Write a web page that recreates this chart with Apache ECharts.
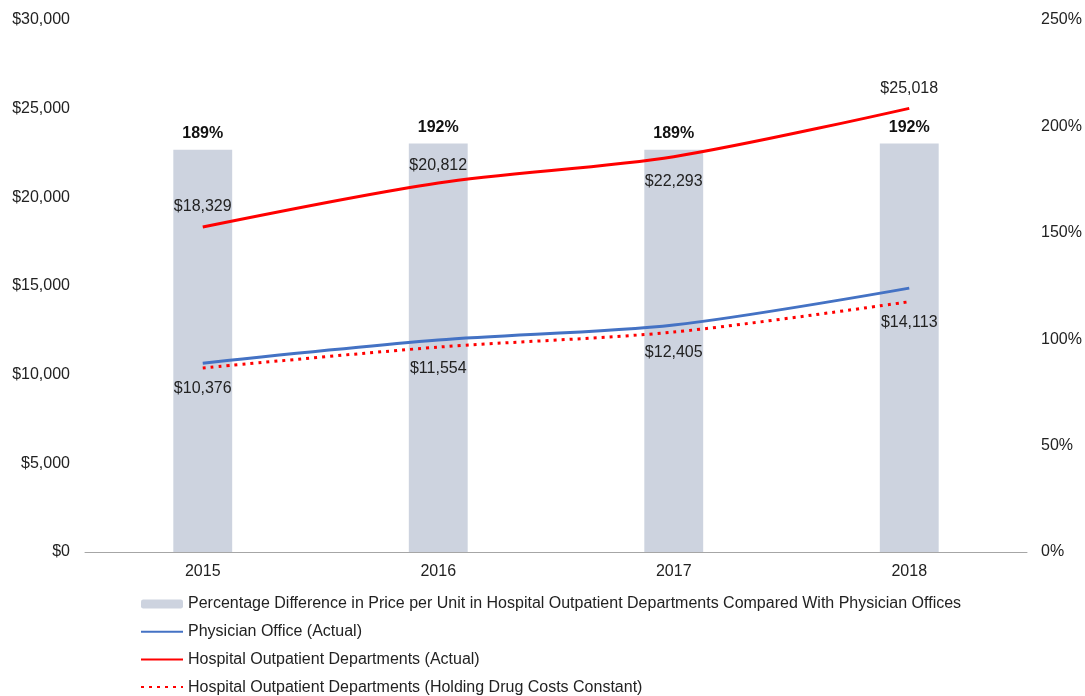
<!DOCTYPE html>
<html>
<head>
<meta charset="utf-8">
<script src="https://cdn.jsdelivr.net/npm/echarts@6/dist/echarts.min.js"></script>
<style>
  html, body { margin: 0; padding: 0; background: #fff; }
  #chart { width: 1085px; height: 696px; }
</style>
</head>
<body>
<div id="chart"></div>
<script>
// chart data
const years = ["2015", "2016", "2017", "2018"]
const pctDifference = [189, 192, 189, 192]
const physicianActual = [10650, 11950, 12800, 14880]
const hopdActual = [18329, 20812, 22293, 25018]
const hopdDrugConstant = [10376, 11554, 12405, 14113]

const leftTicks = [0, 5000, 10000, 15000, 20000, 25000, 30000]
const rightTicks = [0, 50, 100, 150, 200, 250]

const names = [
  "Percentage Difference in Price per Unit in Hospital Outpatient Departments Compared With Physician Offices",
  "Physician Office (Actual)",
  "Hospital Outpatient Departments (Actual)",
  "Hospital Outpatient Departments (Holding Drug Costs Constant)",
]

const fontFamily = "'Liberation Sans', Arial, sans-serif"
const dollar = (v) => "$" + v.toLocaleString("en-US")

// per point label placement for the red actual line
const hopdLabelPos = [
  { position: "top", distance: 12 },
  { position: "top", distance: 9 },
  { position: "bottom", distance: 17 },
  { position: "top", distance: 12 },
]

const chart = echarts.init(document.getElementById("chart"))

const option = {
  animation: false,
  textStyle: { fontFamily },
  grid: { left: 85, right: 58, top: 20, bottom: 144, containLabel: false },
  legend: {
    orient: "vertical",
    left: 140,
    top: 596,
    height: 120,
    padding: 0,
    itemWidth: 42,
    itemHeight: 9,
    itemGap: 11.7,
    textStyle: { fontSize: 16, color: "#222", fontFamily },
    data: [
      { name: names[0] },
      { name: names[1], itemStyle: { opacity: 0 } },
      { name: names[2], itemStyle: { opacity: 0 } },
      { name: names[3], itemStyle: { opacity: 0 } },
    ],
  },
  xAxis: {
    type: "category",
    data: years,
    boundaryGap: true,
    axisLine: { lineStyle: { color: "#a6a6a6", width: 1 } },
    axisTick: { show: false },
    axisLabel: { fontSize: 16, color: "#222", margin: 12, fontFamily },
  },
  yAxis: [
    {
      type: "value",
      min: leftTicks[0],
      max: leftTicks[leftTicks.length - 1],
      interval: leftTicks[1] - leftTicks[0],
      splitLine: { show: false },
      axisLine: { show: false },
      axisTick: { show: false },
      axisLabel: { fontSize: 16, color: "#222", margin: 15, formatter: dollar, fontFamily },
    },
    {
      type: "value",
      min: rightTicks[0],
      max: rightTicks[rightTicks.length - 1],
      interval: rightTicks[1] - rightTicks[0],
      splitLine: { show: false },
      axisLine: { show: false },
      axisTick: { show: false },
      axisLabel: { fontSize: 16, color: "#222", margin: 14, formatter: "{value}%", fontFamily },
    },
  ],
  series: [
    {
      name: names[0],
      type: "bar",
      yAxisIndex: 1,
      barWidth: "25%",
      data: pctDifference,
      itemStyle: { color: "#cdd3df" },
      label: {
        show: true,
        position: "top",
        distance: 8,
        formatter: "{c}%",
        fontWeight: "bold",
        fontSize: 16,
        color: "#111",
        fontFamily,
      },
      z: 1,
    },
    {
      name: names[1],
      type: "line",
      data: physicianActual,
      smooth: 0.3,
      symbol: "circle",
      symbolSize: 0.1,
      itemStyle: { color: "#4472c4" },
      lineStyle: { color: "#4472c4", width: 3 },
      z: 3,
    },
    {
      name: names[2],
      type: "line",
      data: hopdActual.map((v, i) => ({ value: v, label: hopdLabelPos[i] })),
      smooth: 0.3,
      symbol: "circle",
      symbolSize: 0.1,
      itemStyle: { color: "#ff0000" },
      lineStyle: { color: "#ff0000", width: 3 },
      label: {
        show: true,
        formatter: (p) => dollar(p.value),
        fontSize: 16,
        color: "#222",
        fontFamily,
      },
      z: 4,
    },
    {
      name: names[3],
      type: "line",
      data: hopdDrugConstant,
      smooth: 0.3,
      symbol: "circle",
      symbolSize: 0.1,
      itemStyle: { color: "#ff0000" },
      lineStyle: { color: "#ff0000", width: 3, type: [3, 5] },
      label: {
        show: true,
        position: "bottom",
        distance: 13,
        formatter: (p) => dollar(p.value),
        fontSize: 16,
        color: "#222",
        fontFamily,
      },
      z: 3,
    },
  ],
}

chart.setOption(option)
</script>
</body>
</html>
